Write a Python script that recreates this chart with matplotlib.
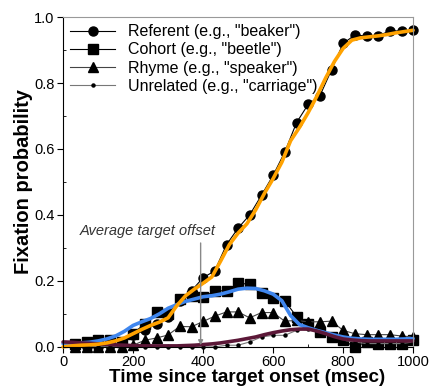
import numpy as np
import matplotlib.pyplot as plt
from matplotlib.ticker import MultipleLocator

plt.rcParams['font.family'] = ['Liberation Sans', 'DejaVu Sans']

# observed proportions, one sample every 33 ms
time_ms = [33, 67, 100, 133, 167, 200, 233, 267, 300, 333, 367, 400, 433, 467, 500,
           533, 567, 600, 633, 667, 700, 733, 767, 800, 833, 867, 900, 933, 967, 1000]
referent = [0.0, 0.0, 0.0, 0.005, 0.01, 0.035, 0.05, 0.07, 0.09, 0.14, 0.17, 0.21, 0.23, 0.31, 0.36,
            0.40, 0.46, 0.52, 0.59, 0.68, 0.735, 0.76, 0.84, 0.92, 0.945, 0.943, 0.943, 0.958, 0.958, 0.96]
cohort = [0.01, 0.015, 0.02, 0.02, 0.015, 0.04, 0.07, 0.105, 0.1, 0.145, 0.155, 0.15, 0.17, 0.17, 0.193,
          0.19, 0.162, 0.147, 0.14, 0.092, 0.07, 0.046, 0.03, 0.02, 0.0, 0.015, 0.01, 0.01, 0.01, 0.02]
rhyme = [0.0, 0.0, 0.0, 0.0, 0.0, 0.005, 0.02, 0.027, 0.036, 0.062, 0.061, 0.077, 0.093, 0.106, 0.106,
         0.088, 0.104, 0.104, 0.078, 0.08, 0.076, 0.076, 0.078, 0.05, 0.04, 0.037, 0.037, 0.037, 0.033, 0.03]
unrelated = [0.01, 0.005, 0.0, 0.0, 0.0, 0.0, 0.0, 0.0, 0.0, 0.0, 0.0, 0.0, 0.0, 0.005, 0.005,
             0.015, 0.03, 0.035, 0.035, 0.05, 0.055, 0.05, 0.04, 0.02, 0.015, 0.01, 0.01, 0.01, 0.01, 0.015]

# model fits, read every 25 ms
fit_time = [0, 25, 50, 75, 100, 125, 150, 175, 200, 225, 250, 275, 300, 325, 350, 375, 400, 425, 450, 475,
            500, 525, 550, 575, 600, 625, 650, 675, 700, 725, 750, 775, 800, 825, 850, 875, 900, 925, 950, 975, 1000]
fit_referent = [0.0, 0.003, 0.005, 0.006, 0.008, 0.012, 0.018, 0.027, 0.04, 0.053, 0.065, 0.075, 0.088, 0.125,
                0.155, 0.175, 0.193, 0.212, 0.26, 0.31, 0.345, 0.373, 0.415, 0.465, 0.51, 0.56, 0.625, 0.665,
                0.71, 0.76, 0.815, 0.865, 0.905, 0.93, 0.937, 0.94, 0.943, 0.947, 0.952, 0.956, 0.96]
fit_cohort = [0.01, 0.01, 0.012, 0.014, 0.018, 0.024, 0.033, 0.047, 0.065, 0.076, 0.086, 0.1, 0.117, 0.128,
              0.138, 0.145, 0.152, 0.155, 0.16, 0.167, 0.175, 0.178, 0.177, 0.17, 0.16, 0.14, 0.095, 0.068,
              0.058, 0.05, 0.043, 0.036, 0.03, 0.026, 0.024, 0.023, 0.023, 0.023, 0.023, 0.024, 0.025]
fit_unrelated = [0.015, 0.014, 0.012, 0.011, 0.009, 0.008, 0.006, 0.005, 0.004, 0.003, 0.003, 0.003, 0.003,
                 0.003, 0.004, 0.005, 0.007, 0.009, 0.012, 0.016, 0.02, 0.025, 0.03, 0.037, 0.043, 0.048,
                 0.052, 0.054, 0.054, 0.048, 0.04, 0.031, 0.024, 0.021, 0.019, 0.018, 0.018, 0.018, 0.018,
                 0.018, 0.018]

labels = ['Referent (e.g., "beaker")', 'Cohort (e.g., "beetle")',
          'Rhyme (e.g., "speaker")', 'Unrelated (e.g., "carriage")']
target_offset = 393

fig = plt.figure(figsize=(4.29, 3.88), dpi=100)
ax = fig.add_axes([0.147, 0.106, 0.816, 0.85])

ax.plot(time_ms, referent, color='black', lw=0.8, marker='o', ms=6.5, clip_on=False, label=labels[0])
ax.plot(time_ms, cohort, color='black', lw=0.8, marker='s', ms=6.5, clip_on=False, label=labels[1])
ax.plot(time_ms, rhyme, color='#444444', lw=0.8, marker='^', ms=6.5, mfc='black', mec='black',
        clip_on=False, label=labels[2])
ax.plot(time_ms, unrelated, color='#777777', lw=0.8, marker='o', ms=2.2, mfc='black', mec='black',
        clip_on=False, label=labels[3])

ax.plot(fit_time, fit_cohort, color='#3f86ee', lw=2.6, solid_capstyle='round', clip_on=False)
ax.plot(fit_time, fit_unrelated, color='#5c1838', lw=2.6, solid_capstyle='round', clip_on=False)
ax.plot(fit_time, fit_referent, color='#ffa200', lw=2.6, solid_capstyle='round', clip_on=False)

ax.text(435, 0.35, 'Average target offset', fontsize=10.5, style='italic', color='#333333',
        ha='right', va='center')
ax.annotate('', xy=(target_offset, 0.005), xytext=(target_offset, 0.315),
            arrowprops=dict(arrowstyle='-|>', color='#888888', lw=1.0, mutation_scale=7,
                            shrinkA=0, shrinkB=0))

ax.set_xlim(0, 1000)
ax.set_ylim(0, 1.0)
ax.xaxis.set_major_locator(MultipleLocator(200))
ax.xaxis.set_minor_locator(MultipleLocator(100))
ax.yaxis.set_major_locator(MultipleLocator(0.2))
ax.yaxis.set_minor_locator(MultipleLocator(0.1))
ax.set_yticklabels(['%.1f' % v for v in ax.get_yticks()])
ax.tick_params(which='major', direction='out', length=4, labelsize=10.5, width=0.8, pad=2)
ax.tick_params(which='minor', direction='in', length=2.5, width=0.6)
ax.spines['top'].set_color('#999999')
ax.spines['right'].set_color('#999999')

ax.set_xlabel('Time since target onset (msec)', fontsize=13.6, fontweight='bold')
ax.xaxis.set_label_coords(0.527, -0.068)
ax.set_ylabel('Fixation probability', fontsize=14.5, fontweight='bold', labelpad=1)

ax.legend(loc='upper left', frameon=False, fontsize=11.5, handlelength=2.8, handletextpad=0.8,
          labelspacing=0.2, borderaxespad=0.3, borderpad=0.15)

fig.savefig('out.png', dpi=100)
